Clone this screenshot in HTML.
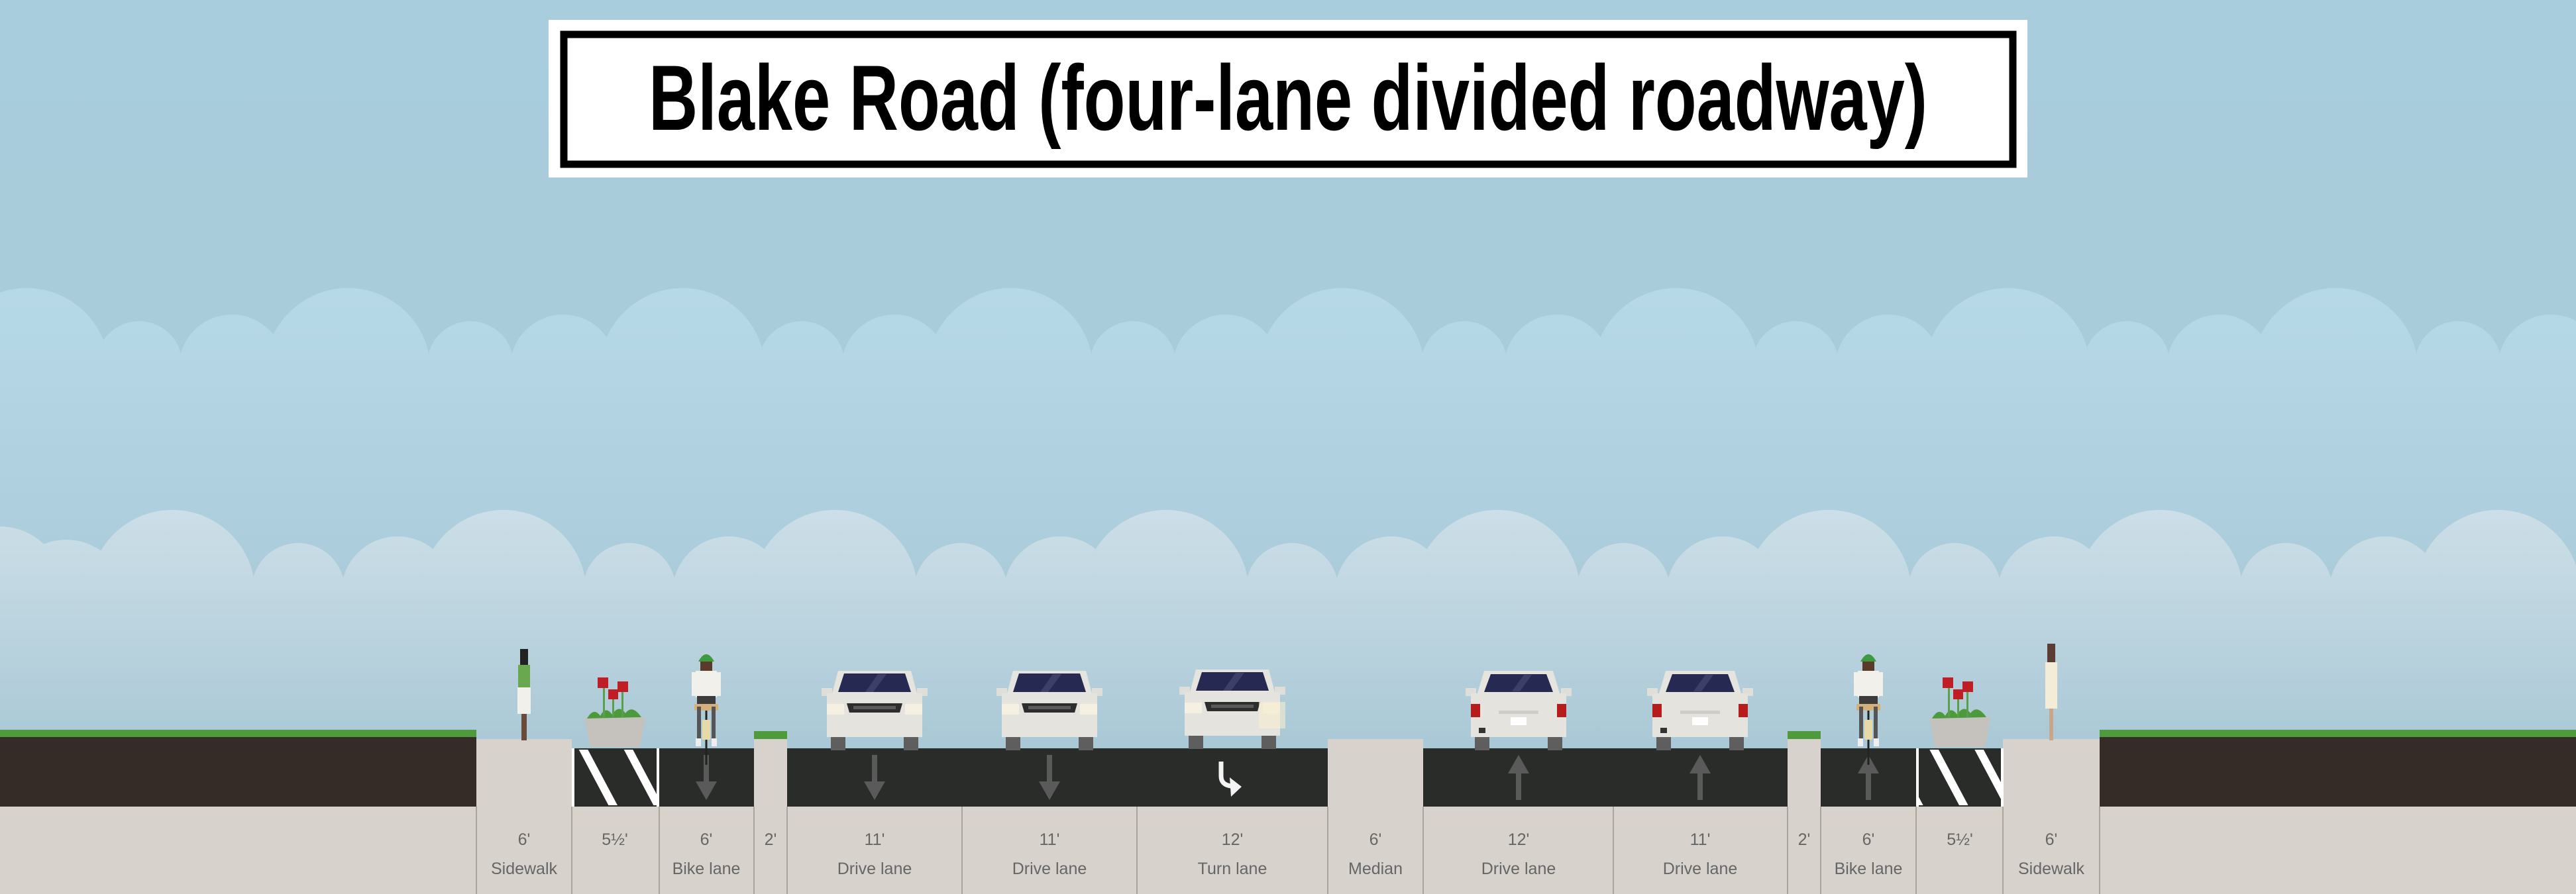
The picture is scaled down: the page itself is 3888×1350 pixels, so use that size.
<!DOCTYPE html>
<html><head><meta charset="utf-8"><style>
html,body{margin:0;padding:0;width:3888px;height:1350px;overflow:hidden}
svg{display:block}
</style></head><body>
<svg width="3888" height="1350" viewBox="0 0 3888 1350" xmlns="http://www.w3.org/2000/svg">
<defs>
<linearGradient id="sky" x1="0" y1="0" x2="0" y2="1">
<stop offset="0" stop-color="#a8cddc"/><stop offset="0.6" stop-color="#aacbd9"/><stop offset="1" stop-color="#a6c8d6"/>
</linearGradient>
<linearGradient id="cb" x1="0" y1="430" x2="0" y2="900" gradientUnits="userSpaceOnUse">
<stop offset="0" stop-color="#b6d9e8"/><stop offset="0.35" stop-color="#b3d5e3"/><stop offset="1" stop-color="#aacbd9"/>
</linearGradient>
<linearGradient id="cf" x1="0" y1="765" x2="0" y2="1130" gradientUnits="userSpaceOnUse">
<stop offset="0" stop-color="#cddfe8"/><stop offset="0.4" stop-color="#bfd6e1"/><stop offset="1" stop-color="#a9c8d5"/>
</linearGradient>
<pattern id="hatch" patternUnits="userSpaceOnUse" width="60" height="90" patternTransform="rotate(-28)">
<rect width="60" height="90" fill="#2a2c2a"/><rect x="0" y="0" width="12" height="90" fill="#fff"/>
</pattern>
<g id="carF">
<rect x="-66" y="98" width="22" height="22" fill="#5e5e5e"/><rect x="44" y="98" width="22" height="22" fill="#5e5e5e"/>
<polygon points="-55,0 55,0 64,34 -64,34" fill="#e6e4de"/>
<polygon points="-46,4 46,4 55,32 -55,32" fill="#262a52"/>
<polygon points="5,5 18,5 -2,32 -14,32" fill="#3c3f68"/>
<rect x="-80" y="26" width="16" height="12" fill="#e0ded8"/><rect x="64" y="26" width="16" height="12" fill="#e0ded8"/>
<rect x="-72" y="34" width="144" height="66" fill="#e5e3dd"/>
<rect x="-72" y="50" width="26" height="16" fill="#f5f0e2"/><rect x="46" y="50" width="26" height="16" fill="#f5f0e2"/>
<polygon points="-42,49 42,49 38,63 -38,63" fill="#2d2d2d"/>
<rect x="-32" y="53" width="64" height="5" fill="#5a5a5a"/>
</g>
<g id="carR">
<rect x="-66" y="98" width="22" height="22" fill="#5e5e5e"/><rect x="44" y="98" width="22" height="22" fill="#5e5e5e"/>
<polygon points="-52,0 52,0 62,34 -62,34" fill="#e6e4de"/>
<polygon points="-42,5 42,5 52,32 -52,32" fill="#262a52"/>
<polygon points="8,6 20,6 2,31 -10,31" fill="#3c3f68"/>
<rect x="-80" y="26" width="16" height="12" fill="#e0ded8"/><rect x="64" y="26" width="16" height="12" fill="#e0ded8"/>
<rect x="-72" y="34" width="144" height="66" fill="#e5e3dd"/>
<rect x="-72" y="50" width="14" height="20" fill="#b71c1c"/><rect x="58" y="50" width="14" height="20" fill="#b71c1c"/>
<rect x="-30" y="60" width="60" height="5" fill="#cfcdc7"/>
<rect x="-12" y="70" width="24" height="12" fill="#fff"/>
<rect x="-60" y="86" width="10" height="8" fill="#333"/>
</g>
<g id="arrD"><rect x="-4" y="0" width="8" height="50" fill="#5a5a5a"/><polygon points="-16,40 16,40 0,68" fill="#5a5a5a"/></g>
<g id="planter">
<polygon points="-46,0 46,0 38,45 -38,45" fill="#c5c2bd"/>
<path d="M-42,2 q10,-18 20,-4 q8,-16 18,-2 q10,-16 20,-2 q10,-14 24,6z" fill="#4d9a3c"/>
<rect x="-18" y="-45" width="3" height="45" fill="#5aa04a"/><rect x="-4" y="-32" width="3" height="32" fill="#5aa04a"/><rect x="10" y="-42" width="3" height="42" fill="#5aa04a"/>
<rect x="-26" y="-60" width="16" height="16" fill="#c01e24"/><rect x="-10" y="-42" width="15" height="15" fill="#c01e24"/><rect x="4" y="-54" width="16" height="16" fill="#c01e24"/>
</g>
<g id="bike">
<rect x="-1.5" y="60" width="3" height="100" fill="#222"/>
<rect x="-6" y="92" width="12" height="30" fill="#e8d9a8"/>
<rect x="-16" y="18" width="32" height="40" fill="#f2f0ea"/>
<rect x="-22" y="20" width="6" height="36" fill="#f2f0ea"/><rect x="16" y="20" width="6" height="36" fill="#f2f0ea"/>
<rect x="-14" y="56" width="28" height="16" fill="#3c3c3c"/>
<rect x="-18" y="68" width="36" height="10" fill="#d6b07a"/>
<rect x="-14" y="72" width="6" height="50" fill="#555"/><rect x="8" y="72" width="6" height="50" fill="#555"/>
<rect x="-16" y="120" width="8" height="12" fill="#eee"/><rect x="8" y="120" width="8" height="12" fill="#eee"/>
<rect x="-9" y="2" width="18" height="16" fill="#5a3a28"/>
<path d="M-12,4 q12,-22 24,0z" fill="#3f9a3f"/>
</g>
</defs>
<rect width="3888" height="1350" fill="url(#sky)"/>
<g fill="url(#cb)">
<rect x="0" y="540" width="3888" height="580"/>
<circle cx="40" cy="560" r="125"/><circle cx="210" cy="550" r="65"/><circle cx="350" cy="555" r="80"/>
<circle cx="525" cy="560" r="125"/><circle cx="710" cy="550" r="65"/><circle cx="850" cy="555" r="80"/>
<circle cx="1030" cy="560" r="125"/><circle cx="1210" cy="550" r="65"/><circle cx="1350" cy="555" r="80"/>
<circle cx="1525" cy="560" r="125"/><circle cx="1710" cy="550" r="65"/><circle cx="1850" cy="555" r="80"/>
<circle cx="2025" cy="560" r="125"/><circle cx="2210" cy="550" r="65"/><circle cx="2350" cy="555" r="80"/>
<circle cx="2530" cy="560" r="125"/><circle cx="2710" cy="550" r="65"/><circle cx="2850" cy="555" r="80"/>
<circle cx="3030" cy="560" r="125"/><circle cx="3210" cy="550" r="65"/><circle cx="3350" cy="555" r="80"/>
<circle cx="3525" cy="560" r="125"/><circle cx="3710" cy="550" r="65"/><circle cx="3850" cy="555" r="80"/>
</g>
<g fill="url(#cf)">
<rect x="0" y="900" width="3888" height="260"/>
<circle cx="0" cy="890" r="95"/><circle cx="100" cy="905" r="90"/><circle cx="260" cy="895" r="125"/><circle cx="450" cy="890" r="70"/><circle cx="600" cy="895" r="85"/>
<circle cx="760" cy="895" r="125"/><circle cx="950" cy="890" r="70"/><circle cx="1100" cy="895" r="85"/>
<circle cx="1260" cy="895" r="125"/><circle cx="1450" cy="890" r="70"/><circle cx="1600" cy="895" r="85"/>
<circle cx="1760" cy="895" r="125"/><circle cx="1950" cy="890" r="70"/><circle cx="2100" cy="895" r="85"/>
<circle cx="2260" cy="895" r="125"/><circle cx="2450" cy="890" r="70"/><circle cx="2600" cy="895" r="85"/>
<circle cx="2760" cy="895" r="125"/><circle cx="2950" cy="890" r="70"/><circle cx="3100" cy="895" r="85"/>
<circle cx="3260" cy="895" r="125"/><circle cx="3450" cy="890" r="70"/><circle cx="3600" cy="895" r="85"/>
<circle cx="3770" cy="895" r="125"/>
</g>
<rect x="0" y="1218" width="3888" height="132" fill="#d7d3cc"/>
<rect x="0" y="1113" width="719" height="105" fill="#352c27"/>
<rect x="3169" y="1113" width="719" height="105" fill="#352c27"/>
<rect x="0" y="1102" width="719" height="11" fill="#4f9a3c"/>
<rect x="3169" y="1102" width="719" height="11" fill="#4f9a3c"/>
<rect x="719" y="1116" width="144" height="102" fill="#d7d3cc"/>
<rect x="1138" y="1116" width="50" height="102" fill="#d7d3cc"/>
<rect x="2004" y="1116" width="144" height="102" fill="#d7d3cc"/>
<rect x="2698" y="1116" width="50" height="102" fill="#d7d3cc"/>
<rect x="3023" y="1116" width="146" height="102" fill="#d7d3cc"/>
<rect x="1138" y="1104" width="50" height="12" fill="#4f9a3c"/>
<rect x="2698" y="1104" width="50" height="12" fill="#4f9a3c"/>
<rect x="863" y="1130" width="275" height="88" fill="#2a2c2a"/>
<rect x="1188" y="1130" width="816" height="88" fill="#2a2c2a"/>
<rect x="2148" y="1130" width="550" height="88" fill="#2a2c2a"/>
<rect x="2748" y="1130" width="275" height="88" fill="#2a2c2a"/>
<rect x="866" y="1132" width="128" height="84" fill="url(#hatch)"/>
<rect x="863" y="1130" width="4" height="88" fill="#fff"/><rect x="991" y="1130" width="4" height="88" fill="#fff"/>
<rect x="2895" y="1132" width="128" height="84" fill="url(#hatch)"/>
<rect x="2892" y="1130" width="4" height="88" fill="#fff"/><rect x="3020" y="1130" width="4" height="88" fill="#fff"/>
<use href="#arrD" x="1066" y="1140"/>
<use href="#arrD" x="1320" y="1140"/>
<use href="#arrD" x="1584" y="1140"/>
<g transform="translate(2292,1208) scale(1,-1)"><use href="#arrD"/></g>
<g transform="translate(2566,1208) scale(1,-1)"><use href="#arrD"/></g>
<g transform="translate(2820,1208) scale(1,-1)"><use href="#arrD"/></g>
<path d="M1843,1150 L1843,1172 Q1843,1185 1858,1187" stroke="#f4f4f4" stroke-width="7" fill="none"/>
<polygon points="1856,1174 1874,1188 1858,1203" fill="#f4f4f4"/>
<use href="#carF" x="1320" y="1013"/>
<use href="#carF" x="1584" y="1013"/>
<use href="#carF" x="1860" y="1011"/>
<rect x="1900" y="1060" width="40" height="40" fill="#f5ecd0" opacity="0.6"/>
<use href="#carR" x="2292" y="1013"/>
<use href="#carR" x="2566" y="1013"/>
<use href="#planter" x="928" y="1083"/>
<use href="#planter" x="2958" y="1083"/>
<use href="#bike" x="1066" y="995"/>
<use href="#bike" x="2820" y="995"/>
<g>
<rect x="785" y="980" width="12" height="28" fill="#222"/>
<rect x="782" y="1004" width="18" height="36" fill="#6aa84f"/>
<rect x="781" y="1038" width="20" height="40" fill="#f2f0ea"/>
<rect x="787" y="1078" width="8" height="40" fill="#6b4a3a"/>
</g>
<g>
<rect x="3090" y="972" width="12" height="40" fill="#5a3e36"/>
<rect x="3087" y="1000" width="18" height="70" fill="#f4ecd6"/>
<rect x="3093" y="1070" width="6" height="48" fill="#c9a58a"/>
</g>
<g fill="#aaa69f">
<rect x="718" y="1218" width="2" height="132"/><rect x="862" y="1218" width="2" height="132"/><rect x="994" y="1218" width="2" height="132"/>
<rect x="1137" y="1218" width="2" height="132"/><rect x="1187" y="1218" width="2" height="132"/><rect x="1451" y="1218" width="2" height="132"/>
<rect x="1715" y="1218" width="2" height="132"/><rect x="2003" y="1218" width="2" height="132"/><rect x="2147" y="1218" width="2" height="132"/>
<rect x="2434" y="1218" width="2" height="132"/><rect x="2697" y="1218" width="2" height="132"/><rect x="2747" y="1218" width="2" height="132"/>
<rect x="2891" y="1218" width="2" height="132"/><rect x="3022" y="1218" width="2" height="132"/><rect x="3168" y="1218" width="2" height="132"/>
</g>
<g font-family="Liberation Sans Narrow, Liberation Sans, sans-serif" font-size="25" fill="#666" text-anchor="middle">
<text x="791" y="1276">6'</text><text x="928" y="1276">5½'</text><text x="1066" y="1276">6'</text><text x="1163" y="1276">2'</text>
<text x="1320" y="1276">11'</text><text x="1584" y="1276">11'</text><text x="1860" y="1276">12'</text><text x="2076" y="1276">6'</text>
<text x="2292" y="1276">12'</text><text x="2566" y="1276">11'</text><text x="2723" y="1276">2'</text><text x="2820" y="1276">6'</text>
<text x="2958" y="1276">5½'</text><text x="3096" y="1276">6'</text>
<text x="791" y="1320">Sidewalk</text><text x="1066" y="1320">Bike lane</text>
<text x="1320" y="1320">Drive lane</text><text x="1584" y="1320">Drive lane</text><text x="1860" y="1320">Turn lane</text>
<text x="2076" y="1320">Median</text><text x="2292" y="1320">Drive lane</text><text x="2566" y="1320">Drive lane</text>
<text x="2820" y="1320">Bike lane</text><text x="3096" y="1320">Sidewalk</text>
</g>
<rect x="828" y="30" width="2232" height="238" fill="#fff"/>
<rect x="851" y="52" width="2187" height="196" fill="none" stroke="#000" stroke-width="11"/>
<text x="1944" y="196" text-anchor="middle" font-family="Liberation Sans Narrow, Liberation Sans, sans-serif" font-weight="bold" font-size="140" fill="#000" textLength="1930" lengthAdjust="spacingAndGlyphs">Blake Road (four-lane divided roadway)</text>
</svg>
</body></html>
